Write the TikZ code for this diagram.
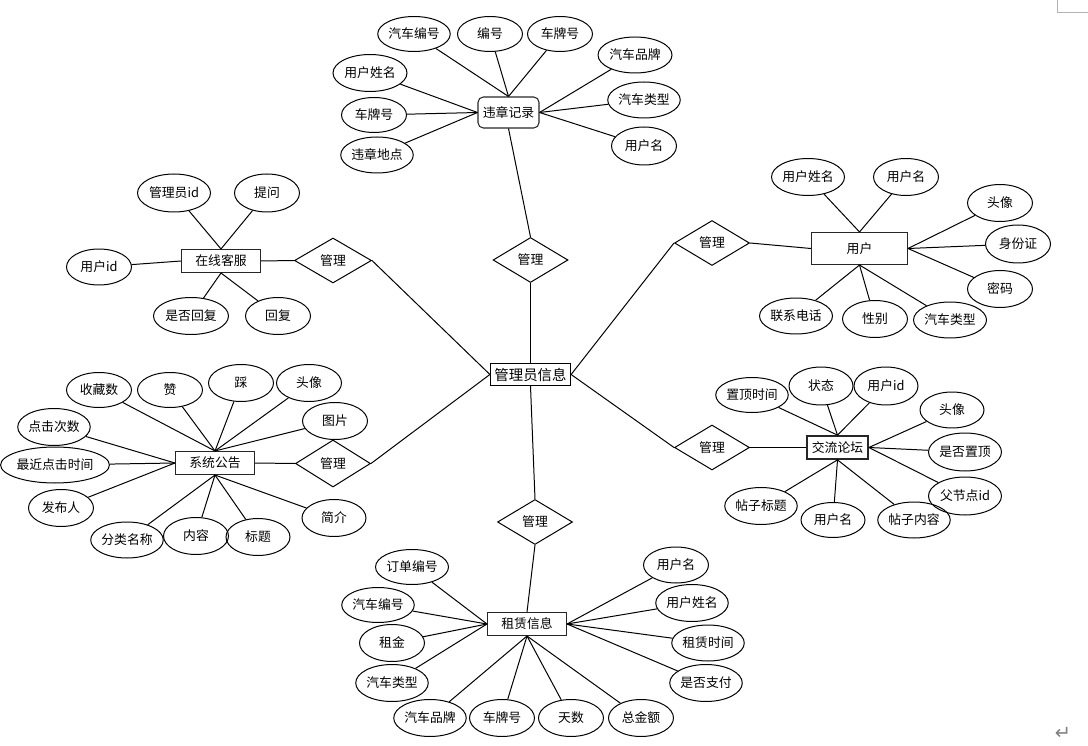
\documentclass[tikz,border=0pt]{standalone}
\usepackage{fontspec}
\newfontfamily\cjk{Noto Sans CJK SC}
\newfontfamily\dv{DejaVu Sans}
\usetikzlibrary{shapes.geometric}
\tikzset{
 attr/.style={ellipse, draw, line width=0.567pt, minimum width=1.3cm, minimum height=0.74cm, inner sep=0pt, font=\cjk\fontsize{7.3}{8}\selectfont},
 ew/.style={minimum width=#1*0.02cm},
 eh/.style={minimum height=#1*0.02cm},
 ent/.style={rectangle, draw=black!85, line width=0.6pt, minimum width=1.58cm, minimum height=0.46cm, inner sep=0pt, font=\cjk\fontsize{7.3}{8}\selectfont},
 rel/.style={diamond, draw, line width=0.567pt, minimum width=1.5cm, minimum height=0.9cm, inner sep=0pt, font=\cjk\fontsize{7.3}{8}\selectfont},
 ln/.style={line width=0.567pt},
}
\begin{document}
\begin{tikzpicture}[x=0.02cm,y=-0.02cm]
\useasboundingbox (0,0) rectangle (1088,746);

% centre
\node[ent, minimum width=1.6cm, minimum height=0.44cm, draw=black, font=\cjk\fontsize{8.2}{9}\selectfont, line width=0.7pt] (m) at (530.5,374.5) {管理员信息};

% ---------- violation record
\node[ent, rounded corners=3pt, minimum width=1.22cm, minimum height=0.62cm] (v) at (508.5,112.5) {违章记录};
\node[rel] (r1) at (530.5,260) {管理};
\node[attr, ew=70, eh=35] (v1) at (414,34) {汽车编号};
\node[attr, eh=35] (v2) at (490,34) {编号};
\node[attr, eh=35] (v3) at (560,34) {车牌号};
\node[attr, ew=74, eh=36] (v4) at (635,55) {汽车品牌};
\node[attr, ew=72, eh=36] (v5) at (644,100) {汽车类型};
\node[attr, eh=38] (v6) at (644,146) {用户名};
\node[attr, ew=74] (v7) at (370,73) {用户姓名};
\node[attr, eh=35] (v8) at (374,115) {车牌号};
\node[attr, ew=71, eh=36] (v9) at (377,155) {违章地点};
\foreach \n in {v1,v2,v3} \draw[ln] (\n) -- (v.north);
\foreach \n in {v4,v5,v6} \draw[ln] (\n) -- (v.east);
\foreach \n in {v7,v8,v9} \draw[ln] (\n) -- (v.west);
\draw[ln] (r1.north) -- (v.south);
\draw[ln] (r1.south) -- (m.north);

% ---------- user
\node[ent, minimum width=1.92cm, minimum height=0.64cm] (u) at (859.5,248.5) {用户};
\node[rel] (r2) at (712,243) {管理};
\node[attr, ew=73] (u1) at (808,177) {用户姓名};
\node[attr] (u2) at (906,177) {用户名};
\node[attr] (u3) at (1000,203) {头像};
\node[attr, eh=38] (u4) at (1018,244) {身份证};
\node[attr] (u5) at (1000,289) {密码};
\node[attr, ew=73, eh=36] (u6) at (796,316) {联系电话};
\node[attr] (u7) at (875,319) {性别};
\node[attr, ew=73, eh=36] (u8) at (950,320) {汽车类型};
\foreach \n in {u1,u2} \draw[ln] (\n) -- (u.north);
\foreach \n in {u3,u4,u5} \draw[ln] (\n) -- (u.east);
\foreach \n in {u6,u7,u8} \draw[ln] (\n) -- (u.south);
\draw[ln] (m.east) -- (r2.west);
\draw[ln] (r2.east) -- (u.west);

% ---------- online service
\node[ent] (k) at (221,261) {在线客服};
\node[rel, minimum width=1.54cm] (r3) at (333,260.5) {管理};
\node[attr, ew=73, eh=38] (k1) at (174,193) {管理员id};
\node[attr, eh=38] (k2) at (267,193) {提问};
\node[attr, eh=36] (k3) at (99,267) {用户id};
\node[attr, ew=75] (k4) at (191,316) {是否回复};
\node[attr] (k5) at (278,316) {回复};
\foreach \n in {k1,k2} \draw[ln] (\n) -- (k.north);
\draw[ln] (k3) -- (k.west);
\foreach \n in {k4,k5} \draw[ln] (\n) -- (k.south);
\draw[ln] (k.east) -- (r3.west);
\draw[ln] (r3.east) -- (m.west);

% ---------- system notice
\node[ent] (s) at (215,463) {系统公告};
\node[rel, minimum height=0.94cm] (r4) at (333,463.5) {管理};
\node[attr, eh=35] (s1) at (99,390) {收藏数};
\node[attr, eh=35] (s2) at (170,390) {赞};
\node[attr] (s3) at (241,383) {踩};
\node[attr] (s4) at (309,383) {头像};
\node[attr] (s5) at (335,421) {图片};
\node[attr, ew=72] (s6) at (54,427) {点击次数};
\node[attr, ew=96, eh=36] (s7) at (55,465) {最近点击时间};
\node[attr] (s8) at (61,508) {发布人};
\node[attr, ew=71, eh=36] (s9) at (127,540) {分类名称};
\node[attr] (s10) at (196,536) {内容};
\node[attr, ew=64] (s11) at (258,537) {标题};
\node[attr, ew=64] (s12) at (334,518) {简介};
\foreach \n in {s1,s2,s3,s4,s5} \draw[ln] (\n) -- (s.north);
\foreach \n in {s6,s7,s8} \draw[ln] (\n) -- (s.west);
\foreach \n in {s9,s10,s11,s12} \draw[ln] (\n) -- (s.south);
\draw[ln] (s.east) -- (r4.west);
\draw[ln] (r4.east) -- (m.west);

% ---------- forum
\node[ent, minimum width=1.22cm, line width=1pt] (f) at (837.5,447.5) {交流论坛};
\node[rel] (r5) at (712,447.5) {管理};
\node[attr, ew=72, eh=35] (f1) at (752,395) {置顶时间};
\node[attr, ew=64, eh=38] (f2) at (821,386) {状态};
\node[attr, ew=64, eh=38] (f3) at (886,386) {用户id};
\node[attr, ew=64, eh=36] (f4) at (952,410) {头像};
\node[attr, ew=73, eh=38] (f5) at (965,452) {是否置顶};
\node[attr, ew=73, eh=38] (f6) at (965,496) {父节点id};
\node[attr, ew=72] (f7) at (761,506) {帖子标题};
\node[attr, ew=64, eh=35] (f8) at (833,520) {用户名};
\node[attr, ew=72, eh=36] (f9) at (914,520) {帖子内容};
\foreach \n in {f1,f2,f3} \draw[ln] (\n) -- (f.north);
\foreach \n in {f4,f5,f6} \draw[ln] (\n) -- (f.east);
\foreach \n in {f7,f8,f9} \draw[ln] (\n) -- (f.south);
\draw[ln] (m.east) -- (r5.west);
\draw[ln] (r5.east) -- (f.west);

% ---------- rental
\node[rel] (r6) at (535,522) {管理};
\node[ent] (z) at (527,624) {租赁信息};
\node[attr, ew=73, eh=35] (z1) at (412,567) {订单编号};
\node[attr, ew=71, eh=35] (z2) at (378,605) {汽车编号};
\node[attr] (z3) at (392,643) {租金};
\node[attr, ew=72] (z4) at (392,683) {汽车类型};
\node[attr, ew=72] (z5) at (430,718) {汽车品牌};
\node[attr] (z6) at (502,718) {车牌号};
\node[attr] (z7) at (571,718) {天数};
\node[attr] (z8) at (641,718) {总金额};
\node[attr, eh=36] (z9) at (676,565) {用户名};
\node[attr, ew=72] (z10) at (692,603) {用户姓名};
\node[attr, ew=72, eh=36] (z11) at (708,643) {租赁时间};
\node[attr, ew=72] (z12) at (706,683) {是否支付};
\foreach \n in {z1,z2,z3,z4} \draw[ln] (\n) -- (z.west);
\foreach \n in {z5,z6,z7,z8} \draw[ln] (\n) -- (z.south);
\foreach \n in {z9,z10,z11,z12} \draw[ln] (\n) -- (z.east);
\draw[ln] (m.south) -- (r6.north);
\draw[ln] (r6.south) -- (z.north);

% page marks
\draw[gray!60, line width=0.6pt] (1057.5,0) -- (1057.5,12.5) -- (1088,12.5);
\node[text=gray, font=\dv\fontsize{11}{12}\selectfont, inner sep=0pt] (ret) at (1063,733) {↵};
\end{tikzpicture}
\end{document}
